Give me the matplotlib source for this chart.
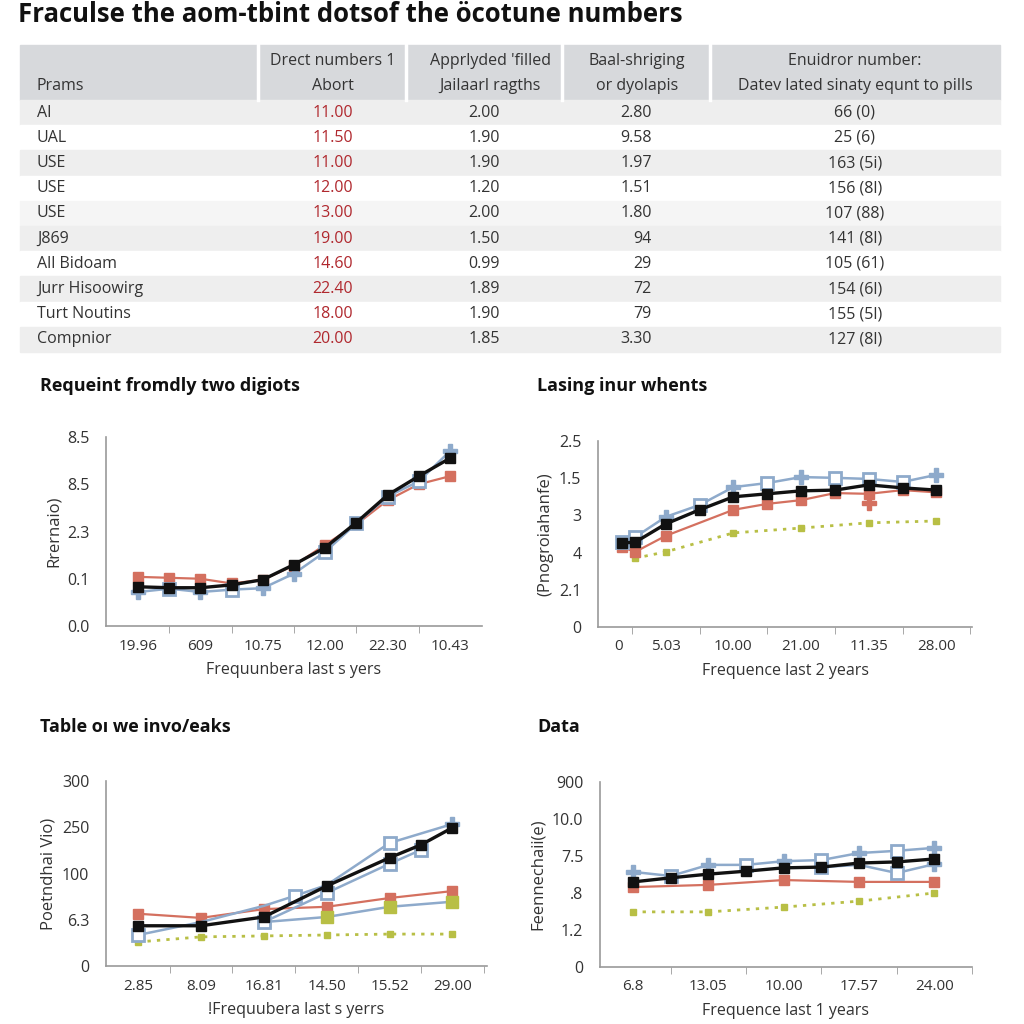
import matplotlib
matplotlib.use("Agg")
import matplotlib.pyplot as plt
from matplotlib.patches import Rectangle

plt.rcParams['font.family'] = ['Open Sans', 'DejaVu Sans']

# ---- table data ----
col_headers = [("", "Prams"),
               ("Drect numbers 1", "Abort"),
               ("Apprlyded 'filled", "Jailaarl ragths"),
               ("Baal-shriging", "or dyolapis"),
               ("Enuidror number:", "Datev lated sinaty equnt to pills")]
row_names = ["AI", "UAL", "USE", "USE", "USE", "J869", "All Bidoam",
             "Jurr Hisoowirg", "Turt Noutins", "Compnior"]
direct_vals = ["11.00", "11.50", "11.00", "12.00", "13.00", "19.00", "14.60",
               "22.40", "18.00", "20.00"]
applied_vals = ["2.00", "1.90", "1.90", "1.20", "2.00", "1.50", "0.99",
                "1.89", "1.90", "1.85"]
baal_vals = ["2.80", "9.58", "1.97", "1.51", "1.80", "94", "29", "72", "79", "3.30"]
enuid_vals = ["66 (0)", "25 (6)", "163 (5i)", "156 (8l)", "107 (88)", "141 (8l)",
              "105 (61)", "154 (6l)", "155 (5l)", "127 (8l)"]

# ---- chart 1 ----
c1_x = list(range(11))
c1_black = [0.83, 0.81, 0.81, 0.87, 0.98, 1.30, 1.66, 2.19, 2.77, 3.17, 3.55]
c1_red = [1.04, 1.02, 1.00, 0.90, 0.98, 1.28, 1.72, 2.15, 2.66, 3.00, 3.17]
c1_blue = [0.72, 0.79, 0.72, 0.77, 0.80, 1.11, 1.57, 2.17, 2.74, 3.06, 3.70]
c1_xlabels = ["19.96", "609", "10.75", "12.00", "22.30", "10.43"]
c1_ylabels = ["0.0", "0.1", "2.3", "8.5", "8.5"]

# ---- chart 2 ----
c2_x = [-0.3, 0.1, 1, 2, 3, 4, 5, 6, 7, 8, 9]
c2_black = [2.26, 2.28, 2.77, 3.15, 3.50, 3.58, 3.66, 3.68, 3.82, 3.74, 3.68]
c2_blue = [2.28, 2.42, 2.96, 3.28, 3.76, 3.87, 4.03, 4.01, 3.98, 3.90, 4.09]
c2_red_x = [-0.3, 0.1, 1, 3, 4, 5, 6, 7, 8, 9]
c2_red = [2.15, 2.02, 2.45, 3.15, 3.31, 3.41, 3.60, 3.58, 3.68, 3.62]
c2_olive_x = [0.1, 1, 3, 5, 7, 9]
c2_olive = [1.85, 2.02, 2.53, 2.66, 2.80, 2.85]
c2_xlabels = ["0", "5.03", "10.00", "21.00", "11.35", "28.00"]
c2_ylabels = ["0", "2.1", "4", "3", "1.5", "2.5"]

# ---- chart 3 ----
c3_black_x = [0, 2, 4, 6, 8, 9, 10]
c3_black = [0.87, 0.87, 1.06, 1.73, 2.34, 2.62, 2.99]
c3_blue_x = [0, 2, 4, 5, 6, 8, 10]
c3_blue = [0.67, 0.95, 1.30, 1.52, 1.75, 2.66, 3.07]
c3_blue2_x = [4, 6, 8, 9]
c3_blue2 = [0.95, 1.58, 2.21, 2.51]
c3_blue3_x = [4, 6, 8, 10]
c3_blue3 = [0.95, 1.06, 1.28, 1.39]
c3_red_x = [0, 2, 4, 6, 8, 10]
c3_red = [1.13, 1.04, 1.23, 1.28, 1.47, 1.62]
c3_olive_x = [0, 2, 4, 6, 8, 10]
c3_olive = [0.52, 0.63, 0.65, 0.67, 0.69, 0.69]
c3_xlabels = ["2.85", "8.09", "16.81", "14.50", "15.52", "29.00"]
c3_ylabels = ["0", "6.3", "100", "250", "300"]

# ---- chart 4 ----
c4_x = list(range(9))
c4_black = [2.30, 2.41, 2.51, 2.59, 2.68, 2.70, 2.81, 2.84, 2.92]
c4_blue = [2.57, 2.46, 2.76, 2.76, 2.86, 2.89, 3.08, 3.14, 3.22]
c4_blue2_x = [5, 6, 7, 8]
c4_blue2 = [2.70, 2.76, 2.54, 2.78]
c4_red_x = [0, 2, 4, 6, 8]
c4_red = [2.16, 2.22, 2.35, 2.30, 2.30]
c4_olive_x = [0, 2, 4, 6, 8]
c4_olive = [1.49, 1.49, 1.62, 1.78, 2.00]
c4_xlabels = ["6.8", "13.05", "10.00", "17.57", "24.00"]
c4_ylabels = ["0", "1.2", ".8", "7.5", "10.0", "900"]

BLACK = "#111111"
RED = "#d4705f"
BLUE = "#8eaacb"
OLIVE = "#b8bf45"
TXT = "#333333"

fig = plt.figure(figsize=(10.24, 10.24), dpi=100)
W = H = 1024.0


def px_axes(left, top, right, bottom):
    return fig.add_axes([left / W, 1 - bottom / H, (right - left) / W, (bottom - top) / H])


# title
fig.text(18 / W, 1 - 15 / H, "Fraculse the aom-tbint dotsof the öcotune numbers",
         fontsize=18.5, fontweight="bold", va="center", ha="left", color="#111111")

# ---- table ----
tab = fig.add_axes([0, 0, 1, 1])
tab.set_xlim(0, W)
tab.set_ylim(H, 0)
tab.axis("off")
tab.add_patch(Rectangle((20, 45), 980, 55, color="#d7d9dc", zorder=0))
for sx in [258, 406, 562, 710]:
    tab.plot([sx, sx], [45, 100], color="white", lw=2.5)
row_shade = ["#eeeeee", "white", "#eeeeee", "white", "#f5f5f5",
             "#eeeeee", "white", "#eeeeee", "white", "#eeeeee"]
row_h = 25.2
for i, shade in enumerate(row_shade):
    tab.add_patch(Rectangle((20, 100 + i * row_h), 980, row_h, color=shade, zorder=0))

hdr_x = [37, 333, 490, 637, 855]
for j, (l1, l2) in enumerate(col_headers):
    ha = "left" if j == 0 else "center"
    if l1:
        tab.text(hdr_x[j], 61, l1, ha=ha, va="center", fontsize=11.5, color=TXT)
    tab.text(hdr_x[j], 86, l2, ha=ha, va="center", fontsize=11.5, color=TXT)

for i in range(len(row_names)):
    yc = 100 + (i + 0.5) * row_h
    tab.text(37, yc, row_names[i], ha="left", va="center", fontsize=11.5, color=TXT)
    tab.text(333, yc, direct_vals[i], ha="center", va="center", fontsize=11.5, color="#b0282e")
    tab.text(484, yc, applied_vals[i], ha="center", va="center", fontsize=11.5, color=TXT)
    tab.text(652, yc, baal_vals[i], ha="right", va="center", fontsize=11.5, color=TXT)
    tab.text(855, yc, enuid_vals[i], ha="center", va="center", fontsize=11.5, color=TXT)


def style(ax, xlim, ymax, major_pos, xlabels, minor_pos, ylabels, ylabel, xlabel):
    ax.set_xlim(*xlim)
    ax.set_ylim(0, ymax)
    for s in ["top", "right"]:
        ax.spines[s].set_visible(False)
    for s in ["left", "bottom"]:
        ax.spines[s].set_color("#9a9a9a")
        ax.spines[s].set_linewidth(1.2)
    ax.set_xticks(major_pos)
    ax.set_xticklabels(xlabels)
    ax.set_xticks(minor_pos, minor=True)
    ax.tick_params(axis="x", which="major", length=0, pad=9, labelsize=11, labelcolor=TXT)
    ax.tick_params(axis="x", which="minor", length=5, color="#9a9a9a", direction="out")
    ax.set_yticks(range(len(ylabels)))
    ax.set_yticklabels(ylabels)
    ax.tick_params(axis="y", length=0, pad=12, labelsize=11.5, labelcolor=TXT)
    ax.set_ylabel(ylabel, fontsize=12, color=TXT, labelpad=4)
    ax.set_xlabel(xlabel, fontsize=11.5, color=TXT, labelpad=6)
    ax.set_facecolor("none")


def blue_line(ax, x, y, plus_idx, sq_idx):
    ax.plot(x, y, color=BLUE, lw=1.8, zorder=2)
    ax.plot([x[i] for i in plus_idx], [y[i] for i in plus_idx], "P", color=BLUE,
            ms=10, mec=BLUE, zorder=3, ls="none")
    ax.plot([x[i] for i in sq_idx], [y[i] for i in sq_idx], "s", mfc="white",
            mec=BLUE, mew=2, ms=8, zorder=3, ls="none")


def red_line(ax, x, y):
    ax.plot(x, y, color=RED, lw=1.6, marker="s", ms=7, mfc=RED, mec=RED, zorder=2)


def black_line(ax, x, y):
    ax.plot(x, y, color=BLACK, lw=2.4, marker="s", ms=7, zorder=4)


def olive_line(ax, x, y):
    ax.plot(x, y, color=OLIVE, lw=2, ls=(0, (1.2, 2.2)), marker="s", ms=4, zorder=1)


# ---- chart 1 ----
fig.text(40 / W, 1 - 386 / H, "Requeint fromdly two digiots", fontsize=13,
         fontweight="bold", va="center", color="#111111")
ax1 = px_axes(106, 437, 482, 626)
style(ax1, (-1.03, 11.03), 4, [0, 2, 4, 6, 8, 10], c1_xlabels, list(range(11)),
      c1_ylabels, "Rrernaio)", "Frequunbera last s yers")
red_line(ax1, c1_x, c1_red)
blue_line(ax1, c1_x, c1_blue, [0, 2, 4, 5, 10], [1, 3, 6, 7, 8, 9])
black_line(ax1, c1_x, c1_black)

# ---- chart 2 ----
fig.text(537 / W, 1 - 386 / H, "Lasing inur whents", fontsize=13,
         fontweight="bold", va="center", color="#111111")
ax2 = px_axes(598, 441, 972, 627)
style(ax2, (-1.0, 10.05), 5, [-0.4, 1, 3, 5, 7, 9], c2_xlabels, list(range(11)),
      c2_ylabels, "(Pnogroiahanfe)", "Frequence last 2 years")
olive_line(ax2, c2_olive_x, c2_olive)
red_line(ax2, c2_red_x, c2_red)
ax2.plot([7], [3.33], "P", color=RED, ms=10)
blue_line(ax2, c2_x, c2_blue, [2, 4, 6, 10], [0, 1, 3, 5, 7, 8, 9])
black_line(ax2, c2_x, c2_black)

# ---- chart 3 ----
fig.text(40 / W, 1 - 727 / H, "Table oı we invo/eaks", fontsize=13,
         fontweight="bold", va="center", color="#111111")
ax3 = px_axes(106, 781, 487, 966)
style(ax3, (-1.02, 11.1), 4, [0, 2, 4, 6, 8, 10], c3_xlabels, list(range(12)),
      c3_ylabels, "Poetndhai Vio)", "!Frequubera last s yerrs")
olive_line(ax3, c3_olive_x, c3_olive)
red_line(ax3, c3_red_x, c3_red)
ax3.plot(c3_blue3_x, c3_blue3, color=BLUE, lw=1.8, marker="s", ms=8,
         mfc=OLIVE, mec=OLIVE, zorder=2)
blue_line(ax3, c3_blue2_x, c3_blue2, [], [0, 1, 2, 3])
blue_line(ax3, c3_blue_x, c3_blue, [6], [0, 3, 5])
black_line(ax3, c3_black_x, c3_black)

# ---- chart 4 ----
fig.text(537 / W, 1 - 727 / H, "Data", fontsize=13,
         fontweight="bold", va="center", color="#111111")
ax4 = px_axes(600, 782, 972, 967)
style(ax4, (-0.88, 9.0), 5, [0, 2, 4, 6, 8], c4_xlabels, list(range(10)),
      c4_ylabels, "Feennechaii(e)", "Frequence last 1 years")
olive_line(ax4, c4_olive_x, c4_olive)
red_line(ax4, c4_red_x, c4_red)
blue_line(ax4, c4_blue2_x, c4_blue2, [3], [0, 2])
blue_line(ax4, c4_x, c4_blue, [0, 2, 4, 6, 8], [1, 3, 5, 7])
black_line(ax4, c4_x, c4_black)

fig.savefig("out.png", dpi=100, facecolor="white")
